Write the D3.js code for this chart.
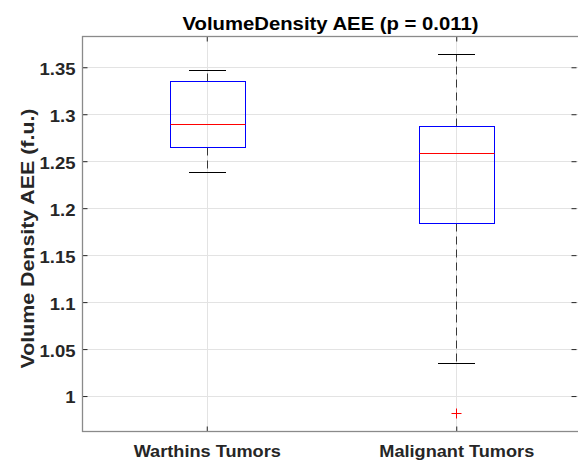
<!DOCTYPE html>
<html><head><meta charset="utf-8">
<script src="https://cdn.jsdelivr.net/npm/d3@7"></script>
<style>body{margin:0;background:#fff;}svg{display:block;font-family:"Liberation Sans",Arial,sans-serif;}</style>
</head><body>
<script>
const categories = ["Warthins Tumors", "Malignant Tumors"];
const whiskerLow  = [1.2383, 1.0354];
const q1          = [1.2652, 1.1844];
const medians     = [1.2901, 1.2591];
const q3          = [1.3351, 1.2880];
const whiskerHigh = [1.3471, 1.3638];
const outliers    = [[], [0.9816]];
const yTicks = [1, 1.05, 1.1, 1.15, 1.2, 1.25, 1.3, 1.35];
const title = "VolumeDensity AEE (p = 0.011)";
const yLabel = "Volume Density AEE (f.u.)";

const W = 578, H = 463;
const m = {left: 82, right: 581, top: 36, bottom: 431};
const svg = d3.select("body").append("svg").attr("width", W).attr("height", H);

function stretch(sel, k) {
  sel.each(function () {
    const w = this.getComputedTextLength();
    d3.select(this).attr("textLength", w * k).attr("lengthAdjust", "spacingAndGlyphs");
  });
}
const px = v => Math.round(v) + 0.5;

const x = d3.scaleLinear().domain([0.5, 2.5]).range([m.left, m.right]);
const y = d3.scaleLinear().domain([0.9628, 1.3833]).range([m.bottom, m.top]);

// grid
const grid = svg.append("g");
grid.selectAll(".gy").data(yTicks).enter().append("line")
  .attr("x1", m.left).attr("x2", m.right)
  .attr("y1", d => px(y(d))).attr("y2", d => px(y(d)))
  .attr("stroke", "#e3e3e3").attr("stroke-width", 1);
grid.selectAll(".gx").data(categories).enter().append("line")
  .attr("x1", (d, i) => px(x(i + 1))).attr("x2", (d, i) => px(x(i + 1)))
  .attr("y1", m.top).attr("y2", m.bottom)
  .attr("stroke", "#e3e3e3").attr("stroke-width", 1);

// axes
const axCol = "#262626";
const yAxis = d3.axisLeft(y).tickValues(yTicks).tickSizeInner(-5).tickSizeOuter(0).tickPadding(7)
  .tickFormat(d => d3.format("")(+d.toFixed(2)));
const gy = svg.append("g").attr("transform", `translate(${m.left + 0.5},0)`).call(yAxis);
gy.select(".domain").remove();
gy.selectAll(".tick line").attr("stroke", axCol);
const yt = gy.selectAll(".tick text").attr("fill", axCol).attr("font-size", "16.5px").attr("font-weight", "bold")
  .attr("dy", "0.42em").attr("font-family", "Liberation Sans, Arial, sans-serif");
stretch(yt, 1.12);

const gyR = svg.append("g").attr("transform", `translate(${m.right - 4.5},0)`)
  .call(d3.axisRight(y).tickValues(yTicks).tickSizeInner(-5).tickSizeOuter(0).tickFormat(""));
gyR.select(".domain").remove();
gyR.selectAll(".tick line").attr("stroke", axCol);

const xAxis = d3.axisBottom(x).tickValues([1, 2]).tickSizeInner(-5).tickSizeOuter(0).tickFormat("");
const gx = svg.append("g").attr("transform", `translate(0,${m.bottom + 0.5})`).call(xAxis);
gx.select(".domain").remove();
gx.selectAll(".tick line").attr("stroke", axCol);
const xt = gx.selectAll(".tick").append("text").attr("y", 25.5).attr("text-anchor", "middle")
  .attr("fill", axCol).attr("font-size", "16.5px").attr("font-weight", "bold")
  .text(d => categories[d - 1]);
stretch(xt, 1.1);

const gxT = svg.append("g").attr("transform", `translate(0,${m.top + 0.5})`)
  .call(d3.axisTop(x).tickValues([1, 2]).tickSizeInner(-5).tickSizeOuter(0).tickFormat(""));
gxT.select(".domain").remove();
gxT.selectAll(".tick line").attr("stroke", axCol);

// frame
svg.append("rect").attr("x", m.left + 0.5).attr("y", m.top + 0.5)
  .attr("width", m.right - m.left - 1).attr("height", m.bottom - m.top)
  .attr("fill", "none").attr("stroke", "#8a8a8a").attr("stroke-width", 1.3);

// boxes
const bw = 75, cw = 37;
const g = svg.append("g");
categories.forEach((c, i) => {
  const cx = px(x(i + 1));
  g.append("line").attr("x1", cx).attr("x2", cx).attr("y1", px(y(q3[i]))).attr("y2", px(y(whiskerHigh[i])))
    .attr("stroke", "#000").attr("stroke-width", 1).attr("stroke-dasharray", "8,5").attr("opacity", 0.75);
  g.append("line").attr("x1", cx).attr("x2", cx).attr("y1", px(y(q1[i]))).attr("y2", px(y(whiskerLow[i])))
    .attr("stroke", "#000").attr("stroke-width", 1).attr("stroke-dasharray", "8,5").attr("opacity", 0.75);
  [whiskerHigh[i], whiskerLow[i]].forEach(v => {
    g.append("line").attr("x1", cx - cw / 2).attr("x2", cx + cw / 2).attr("y1", px(y(v))).attr("y2", px(y(v)))
      .attr("stroke", "#000").attr("stroke-width", 1);
  });
  const top = px(y(q3[i])), bot = px(y(q1[i]));
  g.append("rect").attr("x", Math.round(cx - bw / 2) + 0.5).attr("y", top)
    .attr("width", bw).attr("height", bot - top)
    .attr("fill", "none").attr("stroke", "#0000ff").attr("stroke-width", 1);
  g.append("line").attr("x1", Math.round(cx - bw / 2) + 0.5).attr("x2", Math.round(cx - bw / 2) + 0.5 + bw)
    .attr("y1", px(y(medians[i]))).attr("y2", px(y(medians[i])))
    .attr("stroke", "#ff0000").attr("stroke-width", 1);
  outliers[i].forEach(v => {
    const py = px(y(v)), s = 5;
    g.append("path").attr("d", `M${cx - s},${py}H${cx + s}M${cx},${py - s}V${py + s}`)
      .attr("stroke", "#ff0000").attr("stroke-width", 1).attr("fill", "none");
  });
});

// title
svg.append("text").attr("x", (m.left + m.right) / 2 - 1).attr("y", 30).attr("text-anchor", "middle")
  .attr("font-size", "18px").attr("font-weight", "bold").attr("fill", "#000")
  .attr("textLength", 296).attr("lengthAdjust", "spacingAndGlyphs").text(title);
// y label
svg.append("text").attr("transform", `translate(34,${(m.top + m.bottom) / 2 + 5}) rotate(-90)`)
  .attr("text-anchor", "middle").attr("font-size", "17.5px").attr("font-weight", "bold").attr("fill", axCol)
  .attr("textLength", 260).attr("lengthAdjust", "spacingAndGlyphs")
  .text(yLabel);
</script>
</body></html>
